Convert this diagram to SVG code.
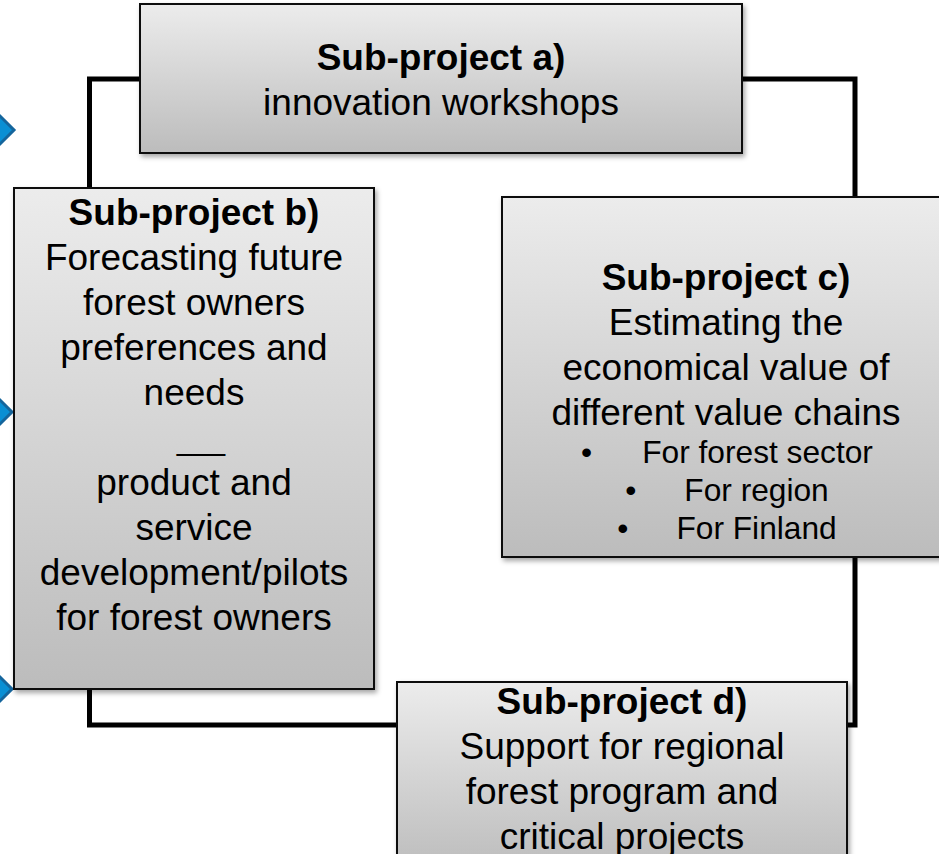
<svg xmlns="http://www.w3.org/2000/svg" width="939" height="854" viewBox="0 0 939 854">
  <defs>
    <linearGradient id="boxfill" x1="0" y1="0" x2="0" y2="1">
      <stop offset="0" stop-color="#ececec"/>
      <stop offset="1" stop-color="#bcbcbc"/>
    </linearGradient>
    <filter id="shadow" x="-10%" y="-10%" width="125%" height="125%">
      <feDropShadow dx="2" dy="3" stdDeviation="2.5" flood-color="#000" flood-opacity="0.35"/>
    </filter>
    <style>
      .box { fill: url(#boxfill); stroke: #111; stroke-width: 2; filter: url(#shadow); }
      .conn { fill: none; stroke: #000; stroke-width: 5; stroke-linejoin: miter; }
      .diamond { fill: #0a8fd4; stroke: #15659c; stroke-width: 3; }
      text { font-family: "Liberation Sans", Arial, sans-serif; fill: #000; text-anchor: middle; }
      .t { font-size: 37px; }
      .h { font-size: 37px; font-weight: bold; }
      .s { font-size: 31.7px; }
    </style>
  </defs>
  <rect width="939" height="854" fill="#fff"/>

  <g id="markers">
    <polygon class="diamond" points="-2,114 14,130 -2,146 -18,130"/>
    <polygon class="diamond" points="-3,397 12,412 -3,427 -18,412"/>
    <polygon class="diamond" points="-3,674 12,689 -3,704 -18,689"/>
  </g>

  <g id="connectors">
    <path class="conn" d="M140 79 H89.5 V188"/>
    <path class="conn" d="M742 79 H855 V197"/>
    <path class="conn" d="M855 557 V725 H847"/>
    <path class="conn" d="M397 725 H89.5 V689"/>
  </g>

  <g id="node-a">
    <rect class="box" x="140" y="4" width="602" height="149"/>
    <text class="h" x="441" y="70">Sub-project a)</text>
    <text class="t" x="441" y="115">innovation workshops</text>
  </g>

  <g id="node-b">
    <rect class="box" x="14" y="188" width="360" height="501"/>
    <text class="h" x="194" y="225">Sub-project b)</text>
    <text class="t" x="194" y="270">Forecasting future</text>
    <text class="t" x="194" y="315">forest owners</text>
    <text class="t" x="194" y="360">preferences and</text>
    <text class="t" x="194" y="405">needs</text>
    <text class="t" x="201" y="450" style="font-size:29px">___</text>
    <text class="t" x="194" y="495">product and</text>
    <text class="t" x="194" y="540">service</text>
    <text class="t" x="194" y="585">development/pilots</text>
    <text class="t" x="194" y="630">for forest owners</text>
  </g>

  <g id="node-c">
    <rect class="box" x="502" y="197" width="460" height="360"/>
    <text class="h" x="726" y="290">Sub-project c)</text>
    <text class="t" x="726" y="335">Estimating the</text>
    <text class="t" x="726" y="380">economical value of</text>
    <text class="t" x="726" y="425">different value chains</text>
    <text class="s" x="727" y="463">•<tspan dx="50">For forest sector</tspan></text>
    <text class="s" x="727" y="501">•<tspan dx="48">For region</tspan></text>
    <text class="s" x="727" y="539">•<tspan dx="48">For Finland</tspan></text>
  </g>

  <g id="node-d">
    <rect class="box" x="397" y="682" width="450" height="190"/>
    <text class="h" x="622" y="714">Sub-project d)</text>
    <text class="t" x="622" y="759">Support for regional</text>
    <text class="t" x="622" y="804">forest program and</text>
    <text class="t" x="622" y="849">critical projects</text>
  </g>
</svg>
